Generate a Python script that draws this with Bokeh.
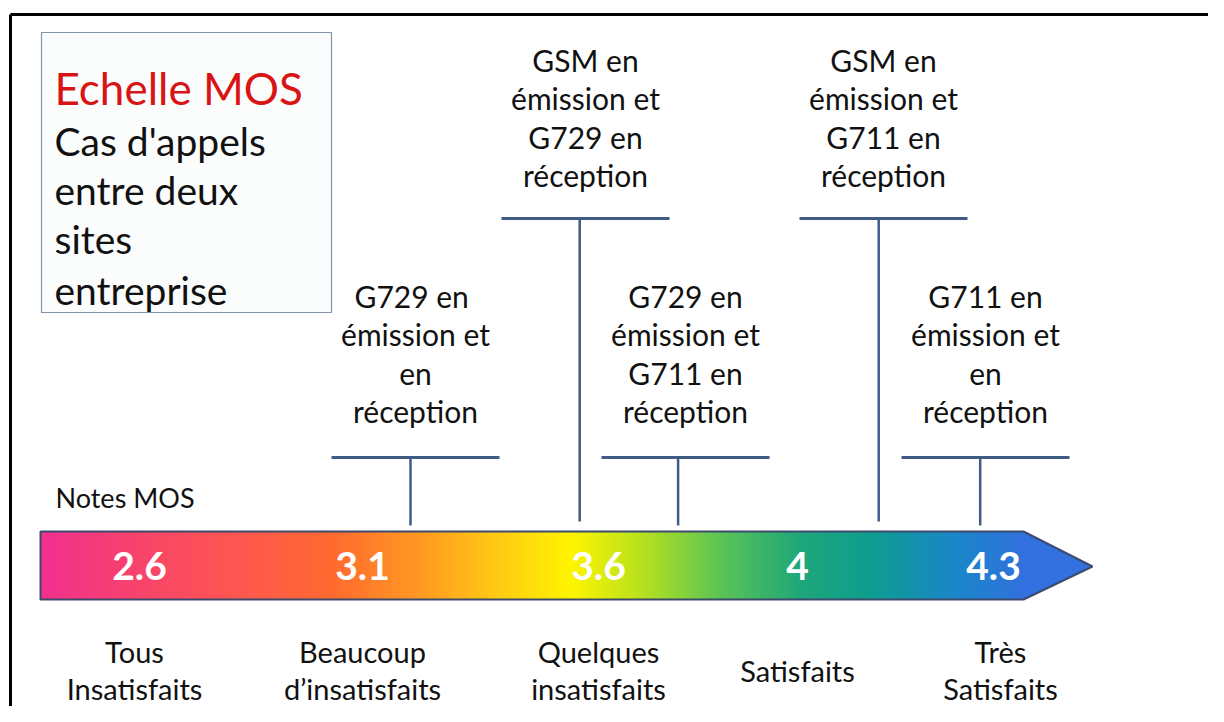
import numpy as np
from bokeh.plotting import figure
from bokeh.models import Range1d
from bokeh.core.properties import value
from bokeh.embed import file_html
from bokeh.resources import INLINE

# ---------------- data ----------------
scores = [2.6, 3.1, 3.6, 4.0, 4.3]
score_labels = ["2.6", "3.1", "3.6", "4", "4.3"]
categories = ["Tous\nInsatisfaits", "Beaucoup\nd\u2019insatisfaits",
              "Quelques\ninsatisfaits", "Satisfaits", "Tr\u00e8s\nSatisfaits"]
callout_texts = [
    "G729  en\n\u00e9mission et\nen\nr\u00e9ception",
    "GSM en\n\u00e9mission et\nG729 en\nr\u00e9ception",
    "G729 en\n\u00e9mission et\nG711 en\nr\u00e9ception",
    "GSM en\n\u00e9mission et\nG711 en\nr\u00e9ception",
    "G711 en\n\u00e9mission et\nen\nr\u00e9ception",
]
callout_mos = [3.2, 3.56, 3.76, 4.12, 4.27]
title_main = "Echelle MOS"
title_sub = ["Cas d'appels", "entre deux", "sites", "entreprise"]
axis_title = "Notes MOS"

# ---------------- layout (picture pixels) ----------------
score_px = [139, 362, 598, 797, 993]
category_px = [134, 362, 598, 797, 1000]
callout_text_x = [415, 585, 685, 883, 985]
callout_level = ["low", "high", "low", "high", "low"]
FONT = value("Lato")
LINE = "#3F5C86"
ARROW_TOP, ARROW_BOT, ARROW_MID = 531, 599, 566
BODY_L, BODY_R, TIP = 40, 1023, 1092

p = figure(width=1208, height=706, output_backend="svg", toolbar_location=None,
           x_range=Range1d(0, 1208), y_range=Range1d(706, 0),
           min_border=0, background_fill_color="white", border_fill_color="white")
p.axis.visible = False
p.grid.visible = False
p.outline_line_color = None

# frame
p.segment(x0=[10, 10], y0=[14, 14], x1=[1208, 10], y1=[14, 706], line_color="black", line_width=3)

# title box
p.quad(left=[41], right=[331], top=[32], bottom=[312], fill_color="#FBFCFC",
       line_color="#8293AA", line_width=1.2)
p.text(x=[54], y=[87], text=[title_main], text_font=FONT, text_font_size="44px",
       text_color="#D81414", text_baseline="alphabetic", text_align="left")
p.text(x=[54] * len(title_sub), y=[140, 189, 238, 289], text=title_sub, text_font=FONT,
       text_font_size="39px", text_color="#111111", text_baseline="alphabetic", text_align="left")

# axis title
p.text(x=[55], y=[497], text=[axis_title], text_font=FONT, text_font_size="27px",
       text_color="#111111", text_baseline="alphabetic", text_align="left")

# gradient arrow body
stops_x = [40, 150, 250, 330, 420, 500, 570, 640, 720, 800, 870, 950, 1023]
stops_c = ["#F2308F", "#F94668", "#FF5A4C", "#FF6A30", "#FF9A22", "#FFCC14", "#FFF500",
           "#B8E21E", "#5CC456", "#1FA77A", "#0E9E90", "#1A88C6", "#3172DF"]
def hex2rgb(h):
    return np.array([int(h[i:i + 2], 16) for i in (1, 3, 5)], dtype=float)
rgb = np.array([hex2rgb(c) for c in stops_c])
edges = np.arange(BODY_L, BODY_R + 1, 3)
lefts, rights = edges[:-1], edges[1:]
mids = (lefts + rights) / 2
cols = []
for m in mids:
    r = np.interp(m, stops_x, rgb[:, 0]); g = np.interp(m, stops_x, rgb[:, 1]); b = np.interp(m, stops_x, rgb[:, 2])
    cols.append("#%02x%02x%02x" % (int(r), int(g), int(b)))
p.quad(left=lefts, right=rights + 0.8, top=ARROW_TOP, bottom=ARROW_BOT, fill_color=cols, line_color=None)
p.patch(x=[BODY_R - 3, BODY_R, TIP, BODY_R, BODY_R - 3],
        y=[ARROW_TOP, ARROW_TOP, ARROW_MID, ARROW_BOT, ARROW_BOT], fill_color="#3371E0", line_color=None)
p.patch(x=[BODY_L, BODY_R, TIP, BODY_R, BODY_L], y=[ARROW_TOP, ARROW_TOP, ARROW_MID, ARROW_BOT, ARROW_BOT],
        fill_color=None, line_color="#3C4A6C", line_width=2)

# scores on the arrow
p.text(x=score_px, y=[565] * 5, text=score_labels, text_font=FONT, text_font_size="39px",
       text_font_style="bold", text_color="white", text_align="center", text_baseline="middle")

# categories below
cx, cy, ct = [], [], []
for x, c in zip(category_px, categories):
    lines = c.split("\n")
    ys = [670] if len(lines) == 1 else [651, 688]
    for ln, y in zip(lines, ys):
        cx.append(x); cy.append(y); ct.append(ln)
p.text(x=cx, y=cy, text=ct, text_font=FONT, text_font_size="29px", text_color="#111111",
       text_align="center", text_baseline="alphabetic")

# callouts
stem_x = np.interp(callout_mos, scores, [140, 363, 598, 797, 1000])
tx, ty, tt = [], [], []
hx0, hx1, hy, sx, sy0, sy1 = [], [], [], [], [], []
for t, x, lvl, s in zip(callout_texts, callout_text_x, callout_level, stem_x):
    base = 59 if lvl == "high" else 295
    bar_y = 218 if lvl == "high" else 457
    for i, ln in enumerate(t.split("\n")):
        tx.append(x); ty.append(base + i * 38.5); tt.append(ln)
    hx0.append(x - 84); hx1.append(x + 84); hy.append(bar_y)
    sx.append(s); sy0.append(bar_y); sy1.append(521 if lvl == "high" else 525)
p.text(x=tx, y=ty, text=tt, text_font=FONT, text_font_size="30px", text_color="#111111",
       text_align="center", text_baseline="alphabetic")
p.segment(x0=hx0, y0=hy, x1=hx1, y1=hy, line_color=LINE, line_width=3)
p.segment(x0=sx, y0=sy0, x1=sx, y1=sy1, line_color=LINE, line_width=2.5)

open("out.html", "w").write(file_html(p, INLINE))
